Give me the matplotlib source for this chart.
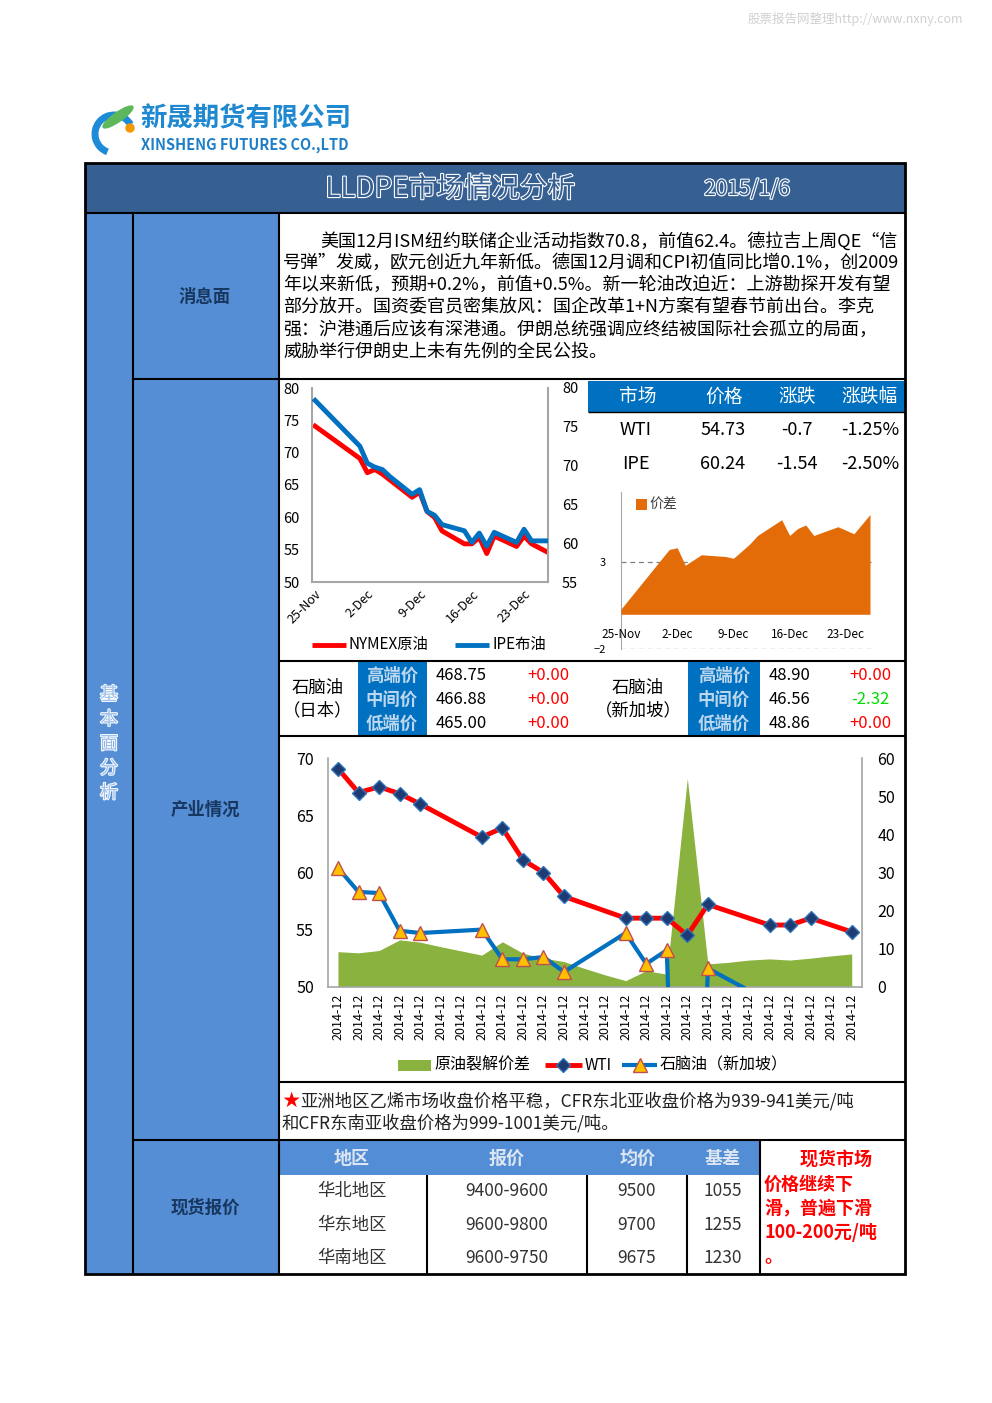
"""
LLDPE市场情况分析 - 2015/1/6 日报页面复刻
"""

import numpy as np
import pandas as pd
import matplotlib
matplotlib.use("Agg")
import matplotlib.pyplot as plt
from matplotlib import patches
from matplotlib import patheffects as pe

plt.rcParams['font.family'] = ['Noto Sans CJK SC', 'DejaVu Sans']

W, H = 992, 1403

# ---- 数据 ----
news_lines = [
    "美国12月ISM纽约联储企业活动指数70.8，前值62.4。德拉吉上周QE“信",
    "号弹”发威，欧元创近九年新低。德国12月调和CPI初值同比增0.1%，创2009",
    "年以来新低，预期+0.2%，前值+0.5%。新一轮油改迫近：上游勘探开发有望",
    "部分放开。国资委官员密集放风：国企改革1+N方案有望春节前出台。李克",
    "强：沪港通后应该有深港通。伊朗总统强调应终结被国际社会孤立的局面，",
    "威胁举行伊朗史上未有先例的全民公投。",
]

oil_dates = ["2014-11-25", "2014-12-01", "2014-12-02", "2014-12-03", "2014-12-04",
             "2014-12-05", "2014-12-08", "2014-12-09", "2014-12-10", "2014-12-11",
             "2014-12-12", "2014-12-15", "2014-12-16", "2014-12-17", "2014-12-18",
             "2014-12-19", "2014-12-22", "2014-12-23", "2014-12-24", "2014-12-26"]
nymex = [74.1, 69.1, 66.9, 67.4, 66.7, 65.8, 63.1, 63.9, 60.9, 60.0,
         57.9, 55.9, 55.9, 56.9, 54.4, 57.1, 55.5, 57.1, 55.9, 54.7]
ipe = [78.4, 72.5, 70.3, 69.8, 69.5, 68.6, 66.3, 66.9, 64.1, 63.6,
       62.4, 61.6, 60.1, 61.3, 59.6, 61.4, 60.1, 61.8, 60.3, 60.3]
spread = [0.3, 3.7, 3.8, 2.8, 3.1, 3.4, 3.3, 3.2, 3.6, 4.0,
          4.5, 5.4, 4.5, 4.9, 5.1, 4.5, 5.0, 4.8, 4.6, 5.7]
oil_ticks = ["2014-11-25", "2014-12-02", "2014-12-09", "2014-12-16", "2014-12-23"]
oil_tick_labels = ["25-Nov", "2-Dec", "9-Dec", "16-Dec", "23-Dec"]

quote_header = ["市场", "价格", "涨跌", "涨跌幅"]
quote_rows = [["WTI", "54.73", "-0.7", "-1.25%"],
              ["IPE", "60.24", "-1.54", "-2.50%"]]

naph_levels = ["高端价", "中间价", "低端价"]
naph_jp = ["468.75", "466.88", "465.00"]
naph_jp_chg = ["+0.00", "+0.00", "+0.00"]
naph_sg = ["48.90", "46.56", "48.86"]
naph_sg_chg = ["+0.00", "-2.32", "+0.00"]

# 12月逐日（26个类别），None 为无数据
cat_labels = ["2014-12"] * 26
crack = [9.2, 8.9, 9.5, 12.3, 11.7, 10.5, 9.4, 8.3, 11.8, 8.8, 7.5, 6.6, 4.8,
         3.1, 1.6, 4.2, 3.3, 54.7, 6.0, 6.4, 7.0, 7.3, 7.0, 7.5, 8.1, 8.6]
wti = [69.1, 67.0, 67.5, 66.9, 66.0, None, None, 63.1, 63.9, 61.1, 60.0, 57.9, None,
       None, 56.0, 56.0, 56.0, 54.5, 57.2, None, None, 55.4, 55.4, 56.0, None, 54.8]
naphtha_sg = [60.4, 58.3, 58.2, 54.9, 54.7, None, None, 55.0, 52.4, 52.4, 52.6, 51.3,
              None, None, 54.7, 52.0, 53.2, 0.0, 51.6, None, None, 48.7, None, None,
              None, None]

spot_header = ["地区", "报价", "均价", "基差"]
spot_region = ["华北地区", "华东地区", "华南地区"]
spot_quote = ["9400-9600", "9600-9800", "9600-9750"]
spot_avg = ["9500", "9700", "9675"]
spot_basis = ["1055", "1255", "1230"]

# ---- 颜色 ----
DARK_BAR = "#376092"
MID_BLUE = "#558ED5"
CELL_BLUE = "#0070C0"
GRAY = "#A6A6A6"

fig = plt.figure(figsize=(W / 100, H / 100), dpi=100)
bg = fig.add_axes([0, 0, 1, 1])
bg.set_xlim(0, W)
bg.set_ylim(H, 0)
bg.axis("off")


def rect_ax(x0, y0, x1, y1):
    a = fig.add_axes([x0 / W, 1 - y1 / H, (x1 - x0) / W, (y1 - y0) / H])
    a.set_facecolor("none")
    return a


def box(x0, y0, x1, y1, color):
    bg.add_patch(patches.Rectangle((x0, y0), x1 - x0, y1 - y0, color=color, lw=0))


def line(x0, y0, x1, y1, lw=1.5, color="black"):
    bg.plot([x0, x1], [y0, y1], color=color, lw=lw, solid_capstyle="butt")


# 水印
bg.text(963, 19, "股票报告网整理http://www.nxny.com", ha="right", va="center",
        fontsize=9, color="#D0D0D0")

# logo
bg.add_patch(patches.Arc((114, 134), 38, 38, theta1=110, theta2=330, lw=5, color="#1E8BD8"))
bg.add_patch(patches.Ellipse((118, 117), 36, 9, angle=-35, color="#5DB85C"))
bg.add_patch(patches.Circle((130, 128), 4, color="#F39800"))
bg.text(140, 119, "新晟期货有限公司", fontsize=19, fontweight="bold", color="#1E88D0",
        va="center", ha="left")
bg.text(141, 145, "XINSHENG FUTURES CO.,LTD", fontsize=10.5, fontweight="bold",
        color="#1E7FC8", va="center", ha="left")

# 背景色块
box(85, 163, 905, 213, DARK_BAR)
box(85, 213, 133, 1274, MID_BLUE)
box(133, 213, 279, 1274, MID_BLUE)
box(588, 381, 905, 412, CELL_BLUE)
box(358, 662, 427, 736, CELL_BLUE)
box(688, 662, 760, 736, CELL_BLUE)
box(279, 1141, 760, 1175, "#538DD5")

# 表格线
bg.add_patch(patches.Rectangle((85, 163), 820, 1111, fill=False, lw=2, ec="black"))
line(85, 213, 905, 213)
line(133, 213, 133, 1274)
line(279, 213, 279, 1274)
line(133, 379, 905, 379)
line(133, 1140, 905, 1140)
line(279, 661, 905, 661)
line(279, 736, 905, 736)
line(279, 1082, 905, 1082)
line(588, 412, 905, 412, lw=1)
line(427, 1175, 427, 1274)
line(587, 1175, 587, 1274)
line(687, 1175, 687, 1274)
line(760, 1140, 760, 1274)

# 标题
hollow = [pe.withStroke(linewidth=1.6, foreground="white")]
bg.text(450, 189, "LLDPE市场情况分析", fontsize=20, color=DARK_BAR, ha="center",
        va="center", path_effects=hollow)
bg.text(747, 189, "2015/1/6", fontsize=15, color=DARK_BAR, ha="center", va="center",
        path_effects=hollow)

# 左侧标签
for i, ch in enumerate("基本面分析"):
    bg.text(109, 695 + i * 24.5, ch, fontsize=13, color="#9DBFEA", ha="center",
            va="center", path_effects=[pe.withStroke(linewidth=1.4, foreground="white")])
for txt, y in [("消息面", 297), ("产业情况", 810), ("现货报价", 1208)]:
    bg.text(205, y, txt, fontsize=12.5, fontweight="bold", color="#17375E",
            ha="center", va="center")

# 消息面
bg.text(320, 241, news_lines[0], fontsize=13, ha="left", va="center")
for i, t in enumerate(news_lines[1:]):
    bg.text(283, 263 + i * 22.2, t, fontsize=13, ha="left", va="center")

# 原油走势图
dts = pd.to_datetime(oil_dates)
ax1 = rect_ax(312, 388, 548, 582)
ax1.plot(dts, nymex, color="#FF0000", lw=3.5)
ax1.set_ylim(50, 80)
ax1.set_yticks(range(50, 81, 5))
ax1.set_xlim(dts[0] - pd.Timedelta(hours=10), dts[-1] + pd.Timedelta(hours=5))
ax1.set_xticks(pd.to_datetime(oil_ticks))
ax1.set_xticklabels(oil_tick_labels, rotation=45, ha="right", rotation_mode="anchor")
ax1.tick_params(length=0, labelsize=10.5, pad=9)
ax1.tick_params(axis="x", labelsize=9, pad=4)
ax1.spines["top"].set_visible(False)
for s in ("left", "bottom", "right"):
    ax1.spines[s].set_color(GRAY)
    ax1.spines[s].set_linewidth(1.5)
ax1b = ax1.twinx()
ax1b.plot(dts, ipe, color="#0070C0", lw=3.5)
ax1b.set_ylim(55, 80)
ax1b.set_yticks(range(55, 81, 5))
ax1b.tick_params(length=0, labelsize=10.5, pad=10)
for s in ("left", "bottom", "top", "right"):
    ax1b.spines[s].set_visible(False)
line(312, 645, 346, 645, lw=3.5, color="#FF0000")
bg.text(348, 645, "NYMEX原油", fontsize=11, va="center", ha="left")
line(455, 645, 489, 645, lw=3.5, color="#0070C0")
bg.text(492, 645, "IPE布油", fontsize=11, va="center", ha="left")

# 报价表
for x, t in zip([638, 724, 797, 870], quote_header):
    bg.text(x, 397, t, fontsize=13.5, color="white", ha="center", va="center")
for r, row in enumerate(quote_rows):
    for x, t in zip([636, 723, 797, 870], row):
        bg.text(x, 430 + r * 34, t, fontsize=13, ha="center", va="center")

# 价差面积图
ax2 = rect_ax(621, 491.7, 872, 649.3)
ax2.fill_between(dts, 0, spread, color="#E36C09", lw=0, zorder=3)
ax2.set_ylim(-2, 7)
ax2.set_xlim(dts[0], dts[-1] + pd.Timedelta(hours=6))
for v in (3, -2):
    ax2.axhline(v, color="#808080", ls=(0, (4, 3)), lw=0.9, zorder=1)
ax2.set_yticks([-2, 3])
ax2.set_xticks([])
ax2.tick_params(length=0, labelsize=8, pad=11)
for s in ("top", "right", "bottom"):
    ax2.spines[s].set_visible(False)
ax2.spines["left"].set_color(GRAY)
for d, t in zip(pd.to_datetime(oil_ticks), oil_tick_labels):
    ax2.text(d, -1.15, t, fontsize=8.5, ha="center", va="center")
box(636, 499, 647, 510, "#E36C09")
bg.text(649, 504, "价差", fontsize=10, va="center", ha="left", color="#404040")

# 石脑油报价
bg.text(318, 688, "石脑油", fontsize=12.5, ha="center", va="center")
bg.text(318, 710, "（日本）", fontsize=12.5, ha="center", va="center")
bg.text(638, 688, "石脑油", fontsize=12.5, ha="center", va="center")
bg.text(638, 710, "（新加坡）", fontsize=12.5, ha="center", va="center")
for i in range(3):
    y = 676 + i * 24
    for x in (392, 724):
        bg.text(x, y, naph_levels[i], fontsize=12.5, fontweight="bold", color="#BDD7EE",
                ha="center", va="center")
    bg.text(436, y, naph_jp[i], fontsize=12, ha="left", va="center")
    bg.text(548, y, naph_jp_chg[i], fontsize=12, color="#FF0000", ha="center", va="center")
    bg.text(769, y, naph_sg[i], fontsize=12, ha="left", va="center")
    c = "#00DD00" if naph_sg_chg[i].startswith("-") else "#FF0000"
    bg.text(870, y, naph_sg_chg[i], fontsize=12, color=c, ha="center", va="center")

# 综合走势图
idx = np.arange(len(crack))
axg = rect_ax(327.7, 758.3, 862, 986.7)
axg.fill_between(idx, 0, crack, color="#8AB23E", lw=0)
axg.set_ylim(0, 60)
axg.set_xlim(-0.5, 25.5)
axg.yaxis.tick_right()
axg.set_yticks(range(0, 61, 10))
axg.set_xticks(idx)
axg.set_xticklabels(cat_labels, rotation=90, fontsize=9)
axg.tick_params(length=0, labelsize=11.5, pad=11)
axg.tick_params(axis="x", labelsize=9, pad=5)
axg.spines["top"].set_visible(False)
for s in ("left", "bottom", "right"):
    axg.spines[s].set_color(GRAY)
    axg.spines[s].set_linewidth(1.2)

axl = rect_ax(327.7, 758.3, 862, 986.7)
wx = [i for i, v in enumerate(wti) if v is not None]
wy = [v for v in wti if v is not None]
nx = [i for i, v in enumerate(naphtha_sg) if v is not None]
ny = [v for v in naphtha_sg if v is not None]
axl.plot(wx, wy, color="#FF0000", lw=3.5, marker="D", ms=7, mfc="#1F3B73", mec="#2E75B6")
axl.plot(nx, ny, color="#0070C0", lw=3, marker="^", ms=10, mfc="#FFC000", mec="#C0504D")
axl.set_ylim(50, 70)
axl.set_xlim(-0.5, 25.5)
axl.set_yticks(range(50, 71, 5))
axl.set_xticks([])
axl.tick_params(length=0, labelsize=11.5, pad=10)
for s in ("left", "bottom", "top", "right"):
    axl.spines[s].set_visible(False)

box(398, 1060, 431, 1071, "#8AB23E")
bg.text(434, 1065, "原油裂解价差", fontsize=11.5, va="center", ha="left")
line(545, 1065, 582, 1065, lw=3.5, color="#FF0000")
bg.plot([563], [1065], marker="D", ms=7, mfc="#1F3B73", mec="#2E75B6")
bg.text(585, 1065, "WTI", fontsize=11, va="center", ha="left")
line(622, 1065, 657, 1065, lw=3, color="#0070C0")
bg.plot([640], [1065], marker="^", ms=10, mfc="#FFC000", mec="#C0504D")
bg.text(660, 1065, "石脑油（新加坡）", fontsize=11.5, va="center", ha="left")

# 乙烯说明
bg.text(282, 1101, "★", fontsize=12.5, color="#FF0000", va="center", ha="left")
bg.text(300, 1101, "亚洲地区乙烯市场收盘价格平稳，CFR东北亚收盘价格为939-941美元/吨",
        fontsize=12.5, va="center", ha="left", color="#222222")
bg.text(282, 1123, "和CFR东南亚收盘价格为999-1001美元/吨。", fontsize=12.5,
        va="center", ha="left", color="#222222")

# 现货报价
for x, t in zip([352, 507, 637, 723], spot_header):
    bg.text(x, 1158, t, fontsize=13, color="#DCE6F2", fontweight="bold",
            ha="center", va="center")
for r in range(3):
    y = 1191 + r * 33.5
    for x, t in zip([352, 507, 637, 723],
                    [spot_region[r], spot_quote[r], spot_avg[r], spot_basis[r]]):
        bg.text(x, y, t, fontsize=12.5, color="#333333", ha="center", va="center")

red_lines = ["　　现货市场", "价格继续下", "滑，普遍下滑", "100-200元/吨", "。"]
for i, t in enumerate(red_lines):
    bg.text(764, 1160 + i * 24, t, fontsize=13, color="#FF0000", fontweight="bold",
            ha="left", va="center")

fig.savefig("out.png", dpi=100)
